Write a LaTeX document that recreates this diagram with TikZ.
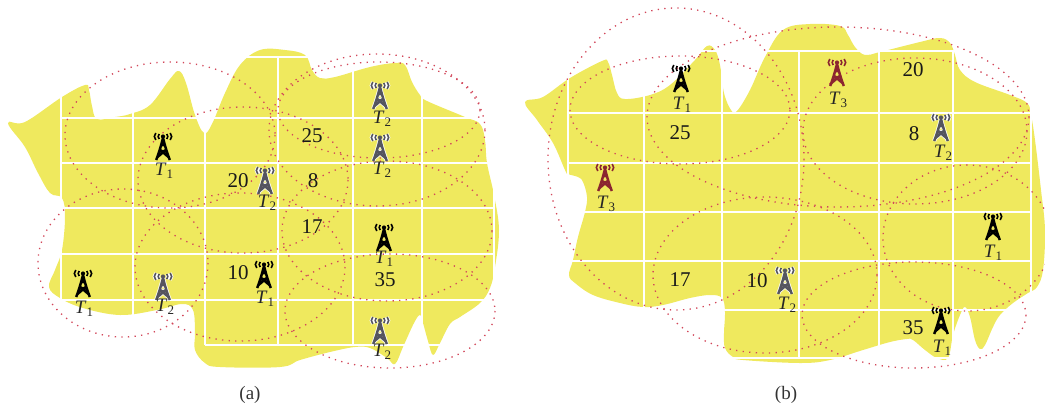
\documentclass[tikz,border=0pt]{standalone}
\usepackage{fontspec}
\setmainfont{Liberation Serif}
\usepackage{tikz}
\definecolor{landyellow}{HTML}{EFE95E}
\definecolor{rangered}{HTML}{D2475A}
\definecolor{towergrey}{HTML}{55555F}
\definecolor{towerred}{HTML}{8B2530}
\definecolor{captiongrey}{HTML}{333333}
\newcommand{\txname}[1]{\textit{T}{\fontsize{13}{13}\selectfont\raisebox{-3pt}{#1}}}
\newcommand{\towerbody}{
  (-6.8,13) .. controls (-3.4,4) and (-1.8,-2) .. (0,-9) .. controls (1.8,-2) and (3.4,4) .. (6.8,13)
  (-3.4,4) -- (3.4,4) (-1.8,-2) -- (1.8,-2) (-5.5,10) -- (2.8,3) (5.5,10) -- (-2.8,3)
}
\newcommand{\towerwaves}{
  (-3.8,-13) to[bend right=45] (-3.8,-8) (3.8,-13) to[bend left=45] (3.8,-8)
  (-7.2,-14) to[bend right=45] (-7.2,-7) (7.2,-14) to[bend left=45] (7.2,-7)
}
\tikzset{
  tower/.pic={
    \draw[line width=2.5pt, line join=round] \towerbody;
    \draw[line width=1.6pt] \towerwaves;
    \fill (0,-10.5) circle (2.1);
  },
  glowtower/.pic={
    \draw[white, line width=4pt, line join=round] \towerbody;
    \draw[white, line width=3.2pt] \towerwaves;
    \pic {tower};
  },
  land/.style={fill=landyellow},
  gridline/.style={draw=white, line width=1.7pt},
  rangeline/.style={draw=rangered, line width=1.3pt, dash pattern=on 1.3pt off 5.3pt},
  towerlab/.style={font=\fontsize{19}{19}\selectfont, text=black!85, inner sep=0pt, text depth=0pt, text height=10pt},
  cellnum/.style={font=\fontsize{21}{21}\selectfont, text=black!90, inner sep=0pt},
  captext/.style={font=\fontsize{19}{19}\selectfont, text=captiongrey}
}
\begin{document}
\begin{tikzpicture}[x=1pt,y=-1pt]
\useasboundingbox (0,0) rectangle (1045,408);

% coverage map (a)
\fill[land] plot[smooth cycle, tension=.62] coordinates {
  (8,123) (25,122) (62,97) (85,85) (89,90) (92,106) (97,119) (115,117) (130,114) (150,105)
  (170,79) (179,71) (186,83) (195,115) (204,133) (212,124) (225,93) (240,65) (260,50)
  (285,50) (305,55) (312,70) (320,78) (335,77) (370,67) (395,63) (405,65) (412,82) (420,95)
  (427,101) (465,117) (480,124) (485,140) (487,163) (494,195) (499,230) (495,267) (490,288)
  (480,303) (460,317) (450,324) (440,343) (433,355) (428,341) (423,323) (420,315) (414,323)
  (403,347) (395,364) (387,358) (370,348) (355,347) (330,352) (300,360) (280,367) (220,367)
  (205,363) (195,350) (195,333) (193,310) (182,304) (157,310) (120,315) (83,308) (60,298)
  (49,287) (55,270) (62,250) (65,217) (62,198) (50,193) (38,173) (25,147)
};
\foreach \gx in {61,133,205,278,353,422,494}
  \draw[gridline] (\gx,57) -- (\gx,345);
\foreach \gy in {57,118,163,208,254,300}
  \draw[gridline] (61,\gy) -- (494,\gy);
\draw[gridline] (205,345) -- (494,345);

% coverage map (b)
\fill[land] plot[smooth cycle, tension=.62] coordinates {
  (525,102) (543,97) (570,78) (602,61) (608,62) (612,75) (617,93) (625,99) (650,95) (670,85)
  (695,60) (707,46) (715,50) (720,65) (724,93) (731,110) (737,111) (750,90) (765,57) (783,30)
  (810,24) (840,26) (848,35) (855,47) (865,55) (880,52) (920,42) (940,38) (950,43) (955,55)
  (960,70) (975,82) (1010,95) (1027,103) (1031,115) (1035,140) (1041,190) (1045,230)
  (1043,270) (1037,287) (1028,293) (1013,303) (1000,315) (993,327) (985,345) (980,349)
  (975,340) (970,317) (965,307) (960,315) (953,335) (948,358) (937,358) (925,350) (913,340)
  (907,339) (890,342) (863,350) (830,360) (800,363) (743,360) (733,357) (725,348) (724,333)
  (725,312) (722,298) (710,295) (690,298) (663,305) (643,307) (620,303) (593,295) (575,283)
  (569,275) (573,260) (578,237) (585,212) (587,197) (583,182) (578,177) (568,174) (565,170)
  (553,143) (537,120)
};
\foreach \gx in {568,644,722,799,879,953,1031}
  \draw[gridline] (\gx,51) -- (\gx,310);
\foreach \gy in {51,113,163,212,261,310}
  \draw[gridline] (568,\gy) -- (1031,\gy);
\foreach \gx in {722,799,879,953}
  \draw[gridline] (\gx,310) -- (\gx,358);
\draw[gridline] (722,358) -- (953,358);

% ranges (a)
\draw[rangeline] (170,135) ellipse (105 and 73);
\draw[rangeline] (243,180) ellipse (105 and 73);
\draw[rangeline] (123,263) ellipse (85 and 74);
\draw[rangeline] (240,267) ellipse (105 and 74);
\draw[rangeline] (377,130) ellipse (108 and 76);
\draw[rangeline] (379,110) ellipse (101 and 48);
\draw[rangeline] (387,231) ellipse (105 and 70);
\draw[rangeline] (390,311) ellipse (105 and 57);

% ranges (b)
\draw[rangeline] (676,159) ellipse (128 and 151);
\draw[rangeline] (680,110) ellipse (110 and 54);
\draw[rangeline] (838,117) ellipse (191 and 90);
\draw[rangeline] (915,131) ellipse (112 and 73);
\draw[rangeline] (967,238) ellipse (84 and 73);
\draw[rangeline] (914,315) ellipse (112 and 53);
\draw[rangeline] (765,275) ellipse (112 and 78);

% towers (a)
\pic[black] at (163,147) {tower};      \node[towerlab] (a1) at (164,170) {\txname{1}};
\pic[towergrey] at (380,96) {glowtower};  \node[towerlab] (a2) at (382,118) {\txname{2}};
\pic[towergrey] at (380,148) {glowtower}; \node[towerlab] (a3) at (382,169) {\txname{2}};
\pic[towergrey] at (265,181) {glowtower}; \node[towerlab] (a4) at (267,202) {\txname{2}};
\pic[black] at (384,238) {tower};      \node[towerlab] (a5) at (384,258) {\txname{1}};
\pic[black] at (264,275) {tower};      \node[towerlab] (a6) at (265,298) {\txname{1}};
\pic[black] at (83,284) {tower};       \node[towerlab] (a7) at (84,308) {\txname{1}};
\pic[towergrey] at (163,287) {glowtower}; \node[towerlab] (a8) at (165,306) {\txname{2}};
\pic[towergrey] at (380,331) {glowtower}; \node[towerlab] (a9) at (382,351) {\txname{2}};

% towers (b)
\pic[black] at (681,79) {tower};       \node[towerlab] (b1) at (682,104) {\txname{1}};
\pic[towerred] at (837,73) {tower};    \node[towerlab] (b2) at (838,99) {\txname{3}};
\pic[towerred] at (605,178) {tower};   \node[towerlab] (b3) at (606,203) {\txname{3}};
\pic[towergrey] at (941,128) {glowtower}; \node[towerlab] (b4) at (943,152) {\txname{2}};
\pic[black] at (993,227) {tower};      \node[towerlab] (b5) at (993,252) {\txname{1}};
\pic[towergrey] at (785,281) {glowtower}; \node[towerlab] (b6) at (787,304) {\txname{2}};
\pic[black] at (941,321) {tower};      \node[towerlab] (b7) at (942,347) {\txname{1}};

% cell values
\node[cellnum] (a25) at (312,136) {25};
\node[cellnum] (a20) at (238,181) {20};
\node[cellnum] (a8v) at (313,181) {8};
\node[cellnum] (a17) at (312,227) {17};
\node[cellnum] (a10) at (238,273) {10};
\node[cellnum] (a35) at (385,280) {35};
\node[cellnum] (b20) at (913,70) {20};
\node[cellnum] (b25) at (680,133) {25};
\node[cellnum] (b8v) at (914,134) {8};
\node[cellnum] (b17) at (680,280) {17};
\node[cellnum] (b10) at (757,281) {10};
\node[cellnum] (b35) at (913,328) {35};

\node[captext] (capa) at (250,395) {(a)};
\node[captext] (capb) at (786,395) {(b)};
\end{tikzpicture}
\end{document}
